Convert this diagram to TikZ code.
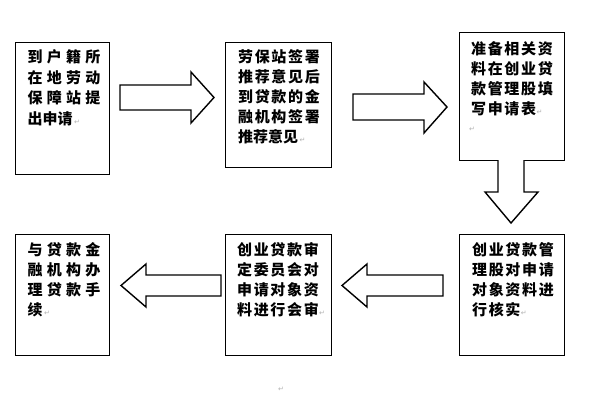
\documentclass[tikz,border=0pt]{standalone}
\usepackage{fontspec}
\newfontfamily\cjknarrow{Noto Sans CJK SC}[LetterSpace=11]
\newfontfamily\cjkwide{Noto Sans CJK SC}[LetterSpace=28]
\newfontfamily\cjkplain{Noto Sans CJK SC}
\newfontfamily\dv{DejaVu Sans}
\begin{document}
\begin{tikzpicture}[x=1pt,y=-1pt,
  box/.style={draw, line width=1.4pt, fill=white, inner sep=0pt, anchor=north west},
  blockarrow/.style={draw, line width=1.4pt, fill=white, line join=miter},
  ln/.style={anchor=west, inner sep=0pt, font=\cjknarrow\bfseries\fontsize{15}{15}\selectfont},
  lnw/.style={anchor=west, inner sep=0pt, font=\cjkwide\bfseries\fontsize{15}{15}\selectfont},
  lnp/.style={anchor=west, inner sep=0pt, font=\cjkplain\bfseries\fontsize{15}{15}\selectfont},
  ret/.style={inner sep=0pt, anchor=base west, text=black!30, font=\dv\fontsize{7}{7}\selectfont}]
\useasboundingbox[fill=white] (0,0) rectangle (597,400);

% boxes
\node[box, minimum width=94pt, minimum height=132pt] (b1) at (15,42) {};
\node[box, minimum width=106pt, minimum height=125pt] (b2) at (225,42) {};
\node[box, minimum width=105pt, minimum height=128pt] (b3) at (459,32) {};
\node[box, minimum width=105pt, minimum height=121pt] (b4) at (459,234) {};
\node[box, minimum width=106pt, minimum height=121pt] (b5) at (225,234) {};
\node[box, minimum width=94pt, minimum height=121pt] (b6) at (15,234) {};

% block arrows
\draw[blockarrow] (120,85) -- (191,85) -- (191,72) -- (214,97.5) -- (191,123) -- (191,110) -- (120,110) -- cycle;
\draw[blockarrow] (353,94) -- (424,94) -- (424,82) -- (447,107) -- (424,133) -- (424,120) -- (353,120) -- cycle;
\draw[blockarrow] (498,160) -- (498,192) -- (485,192) -- (511,223) -- (538,192) -- (524,192) -- (524,160);
\draw[blockarrow] (443,275) -- (367,275) -- (367,264) -- (342,285.5) -- (367,307) -- (367,296) -- (443,296) -- cycle;
\draw[blockarrow] (221,275) -- (146,275) -- (146,264) -- (121,285.5) -- (146,307) -- (146,296) -- (221,296) -- cycle;

% box 1
\node[lnw] (t11) at (27.5,57) {到户籍所};
\node[lnw] (t12) at (27.5,77.5) {在地劳动};
\node[lnw] (t13) at (27.5,98) {保障站提};
\node[lnp] (t14) at (27.5,118.5) {出申请};
\node[ret] (r1) at ([xshift=1pt]t14.base east) {↵};
% box 2
\node[ln] (t21) at (238,57) {劳保站签署};
\node[ln] (t22) at (238,77) {推荐意见后};
\node[ln] (t23) at (238,97) {到贷款的金};
\node[ln] (t24) at (238,117) {融机构签署};
\node[lnp] (t25) at (238,137) {推荐意见};
\node[ret] (r2) at ([xshift=1pt]t25.base east) {↵};
% box 3
\node[ln] (t31) at (471,49) {准备相关资};
\node[ln] (t32) at (471,69) {料在创业贷};
\node[ln] (t33) at (471,89) {款管理股填};
\node[ln] (t34) at (471,109) {写申请表};
\node[ret] (r3) at ([xshift=0pt]t34.base east) {↵};
\node[ret] (r3b) at (469,131) {↵};
% box 4
\node[ln] (t41) at (472,250) {创业贷款管};
\node[ln] (t42) at (472,270) {理股对申请};
\node[ln] (t43) at (472,290) {对象资料进};
\node[ln] (t44) at (472,310) {行核实};
\node[ret] (r4) at ([xshift=0pt]t44.base east) {↵};
% box 5
\node[ln] (t51) at (237,250) {创业贷款审};
\node[ln] (t52) at (237,270) {定委员会对};
\node[ln] (t53) at (237,290) {申请对象资};
\node[ln] (t54) at (237,310) {料进行会审};
\node[ret] (r5) at ([xshift=0pt]t54.base east) {↵};
% box 6
\node[lnw] (t61) at (27.5,250) {与贷款金};
\node[lnw] (t62) at (27.5,270) {融机构办};
\node[lnw] (t63) at (27.5,290) {理贷款手};
\node[lnp] (t64) at (27.5,310) {续};
\node[ret] (r6) at ([xshift=1pt]t64.base east) {↵};
% bottom mark
\node[ret] (r7) at (278,391) {↵};
\end{tikzpicture}
\end{document}
